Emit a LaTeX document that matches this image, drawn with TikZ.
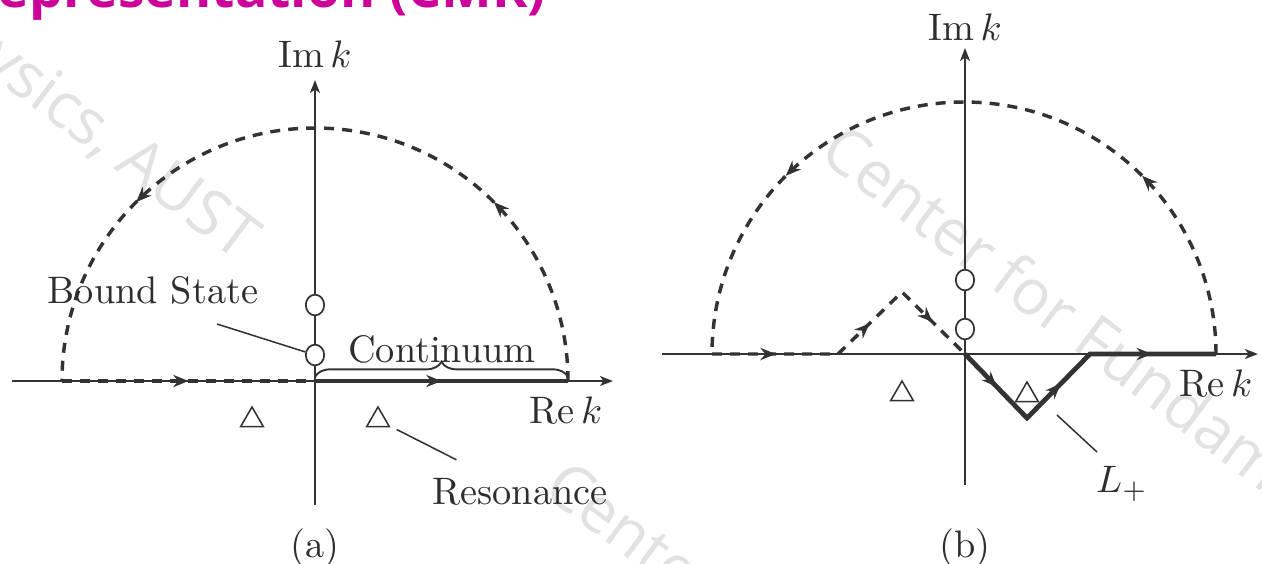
\documentclass[tikz,border=0pt]{standalone}
\usepackage{fontspec}
\usepackage{amsmath}
\usepackage{xcolor}
\usepackage{tikz}
\usetikzlibrary{arrows.meta, calc, decorations.markings, decorations.pathreplacing, shapes.geometric}
\newfontfamily\slidefont{Open Sans}
\definecolor{lineGrey}{HTML}{333333}
\definecolor{textGrey}{HTML}{2E2E2E}
\definecolor{titleMagenta}{HTML}{CC0099}
\definecolor{wmGrey}{HTML}{E2E2E2}

\begin{document}
\begin{tikzpicture}[
  x=0.2609pt, y=0.2609pt,
  >={Stealth[length=4pt, width=3.2pt]},
  every node/.style={text=textGrey},
  axis/.style={-{Stealth[length=3.4pt, width=2.6pt, inset=0.9pt]}, lineGrey, line width=0.4pt},
  cdash/.style={lineGrey, line width=0.9pt, dash pattern=on 2.6pt off 2.1pt},
  cthick/.style={lineGrey, line width=1.25pt},
  midarr/.style={postaction={decorate},
                 decoration={markings, mark=at position #1 with {\arrow{>}}}},
  arcarr/.style={postaction={decorate},
                 decoration={markings, mark=at position 0.25 with {\arrow{>}},
                             mark=at position 0.75 with {\arrow{>}}}},
  bstate/.style={ellipse, draw=lineGrey, fill=white, line width=0.45pt,
                 minimum width=4.8pt, minimum height=5.4pt, inner sep=0pt},
  reso/.style={regular polygon, regular polygon sides=3, draw=lineGrey, line width=0.4pt,
               minimum size=6.8pt, inner sep=0pt},
  brc/.style={decorate, decoration={brace, amplitude=4pt}, lineGrey, line width=0.5pt},
  ptr/.style={lineGrey, line width=0.4pt},
  wm/.style={text=wmGrey, font=\slidefont\fontsize{16.5pt}{20pt}\selectfont,
             rotate=-37, inner sep=0pt},
]
  % page frame: origin of panel (a) at (0,0)
  \useasboundingbox (-315,-182) rectangle (947,381);
  \clip (-315,-182) rectangle (947,381);

  % ═══ Slide leftovers: watermark and cut title ═══
  \node[wm, anchor=base east] (wm1) at (-76,118) {Center for Fundamental Physics, AUST};
  \node[wm, anchor=base west] (wm2) at (502,224) {Center for Fundamental Physics, AUST};
  \node[wm, anchor=base west] (wm3) at (226,-112) {Center for Fundamental Physics, AUST};
  \node[anchor=base east, inner sep=0pt, text=titleMagenta,
        font=\slidefont\bfseries\fontsize{14pt}{17pt}\selectfont] (title)
        at (232,374) {Representation (CMR)};

  % ═══ Panel (a): contour along the real axis ═══
  \draw[axis] (-303,0) -- (298,0);
  \draw[axis] (0,-124) -- (0,301);
  \node (imA) at (0,327) {$\mathrm{Im}\,k$};
  \node (reA) at (251,-30) {$\mathrm{Re}\,k$};

  \draw[cdash, midarr=0.5] (-253,0) -- (0,0);
  \draw[cthick, midarr=0.5] (0,0) -- (253,0);
  \draw[cdash, arcarr] (253,0) arc[start angle=0, end angle=180, radius=253];

  \draw[brc] (0,4) -- (253,4);
  \node (cont) at (127,32) {Continuum};

  \node[bstate] (bsA1) at (0,26) {};
  \node[bstate] (bsA2) at (0,76) {};
  \node (bstxt) at (-162,91) {Bound State};
  \coordinate (bsfoot) at (-98,57);
  \draw[ptr] (bsfoot) -- (bsA1);

  \node[reso] (resA1) at (-63,-39) {};
  \node[reso] (resA2) at (63,-39) {};
  \node (reslbl) at (205,-111) {Resonance};
  \draw[ptr, shorten <=2pt, shorten >=3pt] (resA2) -- (reslbl);

  \node (capA) at (0,-167) {(a)};

  % ═══ Panel (b): contour pushed below the resonance ═══
  \begin{scope}[shift={(650,27)}]
    \draw[axis] (-303,0) -- (293,0);
    \draw[axis] (0,-131) -- (0,306);
    \node (imB) at (0,327) {$\mathrm{Im}\,k$};
    \node (reB) at (251,-30) {$\mathrm{Re}\,k$};

    \draw[cdash, postaction={decorate},
          decoration={markings, mark=at position 0.21 with {\arrow{>}},
                      mark=at position 0.56 with {\arrow{>}},
                      mark=at position 0.85 with {\arrow{>}}}]
          (-253,0) -- (-127,0) -- (-63,62) -- (0,0);
    \draw[cthick, line join=miter, postaction={decorate},
          decoration={markings, mark=at position 0.15 with {\arrow{>}},
                      mark=at position 0.45 with {\arrow{>}},
                      mark=at position 0.79 with {\arrow{>}}}]
          (0,0) -- (62,-64) -- (125,0) -- (251,0);
    \draw[cdash, arcarr] (251,0) arc[start angle=0, end angle=180, radius=252];

    \node[bstate] (bsB1) at (0,25) {};
    \node[bstate] (bsB2) at (0,74) {};

    \node[reso] (resB1) at (-63,-40) {};
    \node[reso] (resB2) at (62,-41) {};

    \coordinate (lpa) at (92,-61);
    \coordinate (lpb) at (132,-98);
    \draw[ptr] (lpa) -- (lpb);
    \node (lplbl) at (157,-130) {$L_+$};

    \node (capB) at (0,-194) {(b)};
  \end{scope}
\end{tikzpicture}
\end{document}
